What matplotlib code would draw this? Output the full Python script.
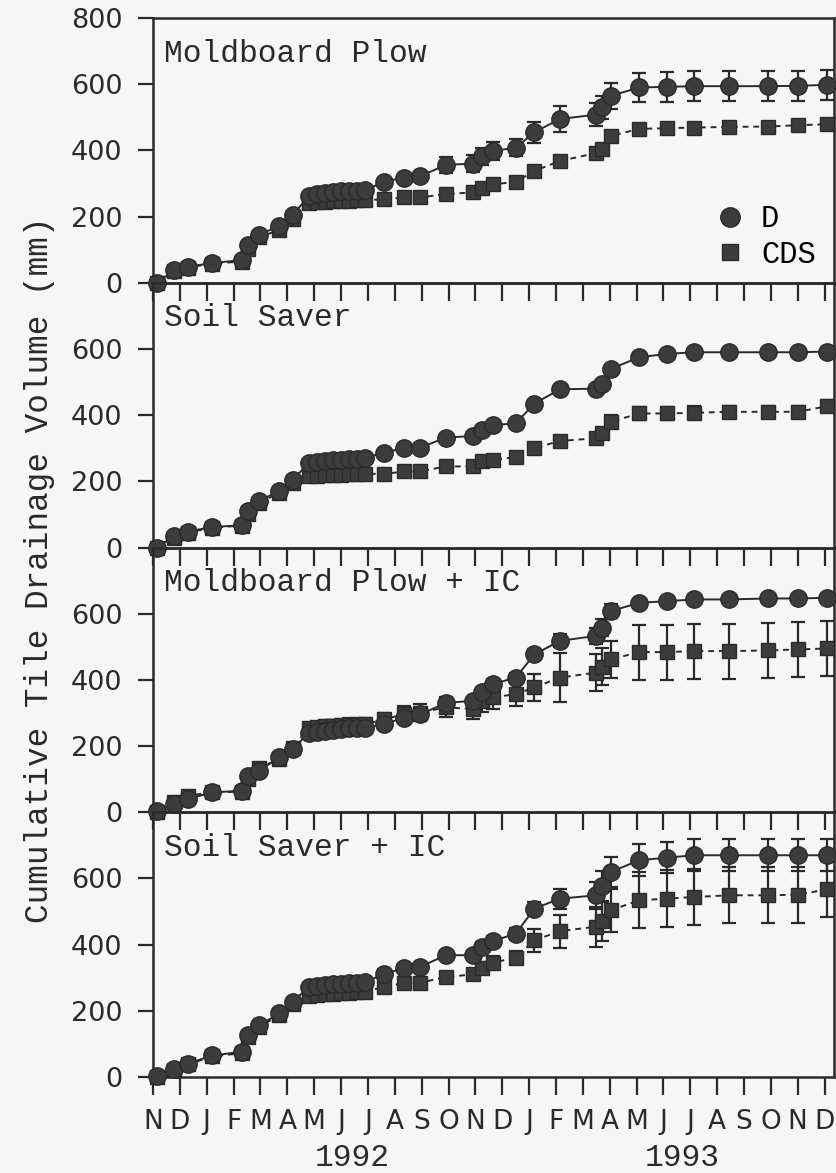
import matplotlib
matplotlib.use("Agg")
import matplotlib.pyplot as plt
import matplotlib.transforms as mtransforms
from matplotlib.lines import Line2D

# Sampling dates, in months after 1 Nov 1991
x_month = [0.15, 0.8, 1.3, 2.2, 3.3, 3.55, 3.95, 4.7, 5.2,
           5.8, 6.1, 6.4, 6.7, 7.0, 7.3, 7.6, 7.9,
           8.6, 9.35, 9.95, 10.9, 11.9, 12.25, 12.65, 13.5, 14.2, 15.15, 16.5, 16.7, 17.05,
           18.1, 19.15, 20.15, 21.45, 22.9, 24.0, 25.1]

month_labels = list("NDJFMAMJJASOND") + list("JFMAMJJASOND")
year_labels = ["1992", "1993"]
year_pos = [7.4, 19.7]

panel_titles = ["Moldboard Plow", "Soil Saver", "Moldboard Plow + IC", "Soil Saver + IC"]

# Moldboard Plow
mp_d = [0, 38, 48, 60, 68, 115, 145, 172, 205,
        262, 268, 272, 274, 276, 277, 278, 280,
        305, 318, 322, 356, 360, 382, 398, 408, 455, 495, 508, 530, 565,
        590, 592, 594, 594, 594, 595, 598]
mp_d_err = [3] * 9 + [6] * 8 + [10, 10, 12, 25, 25, 25, 28, 25, 32, 38, 35, 35, 40] + [45] * 7
mp_cds = [0, 36, 46, 58, 64, 102, 137, 160, 193,
          240, 243, 245, 246, 247, 248, 249, 250,
          252, 258, 258, 268, 273, 285, 297, 305, 338, 368, 392, 405, 444,
          465, 467, 469, 471, 472, 476, 479]
mp_cds_err = [3] * 9 + [5] * 8 + [6, 6, 6, 8, 8, 8, 10, 10, 10, 10, 12, 12, 12] + [12] * 7

# Soil Saver
ss_d = [0, 35, 48, 62, 67, 110, 140, 172, 205,
        255, 258, 261, 263, 265, 267, 268, 270,
        287, 300, 302, 332, 337, 355, 370, 375, 435, 478, 480, 495, 540,
        575, 585, 590, 590, 590, 590, 592]
ss_d_err = [3] * 17 + [5] * 13 + [6] * 7
ss_cds = [0, 28, 45, 60, 66, 100, 135, 165, 195,
          215, 217, 218, 219, 220, 221, 222, 223,
          222, 230, 230, 245, 245, 260, 265, 273, 300, 322, 330, 345, 380,
          405, 405, 407, 410, 410, 410, 427]
ss_cds_err = [3] * 17 + [5, 5, 5, 6, 6, 6, 6, 8, 8, 10, 10, 10, 20] + [20, 20, 20, 18, 18, 18, 18]

# Moldboard Plow + IC
mpic_d = [3, 25, 40, 60, 65, 110, 125, 166, 191,
          240, 244, 247, 250, 252, 254, 255, 256,
          266, 286, 296, 330, 337, 362, 387, 407, 477, 518, 533, 558, 608,
          633, 638, 643, 643, 646, 646, 648]
mpic_d_err = [3] * 17 + [8, 10, 10, 12, 12, 12, 15, 15, 15, 20, 25, 25, 20] + [8] * 7
mpic_cds = [0, 30, 50, 60, 62, 100, 135, 160, 195,
            255, 258, 260, 262, 263, 264, 265, 266,
            281, 296, 301, 317, 312, 337, 347, 357, 377, 407, 422, 440, 462,
            484, 484, 487, 487, 489, 492, 495]
mpic_cds_err = [5] * 9 + [15, 15, 18, 18, 18, 20, 20, 20] + \
    [20, 25, 25, 30, 30, 35, 35, 35, 40, 75, 55, 55, 55] + [83] * 7

# Soil Saver + IC
ssic_d = [2, 25, 40, 65, 76, 126, 156, 192, 227,
          272, 276, 279, 281, 282, 283, 284, 286,
          312, 328, 333, 368, 368, 393, 411, 433, 509, 539, 549, 577, 620,
          655, 663, 670, 670, 670, 670, 670]
ssic_d_err = [4] * 9 + [10] * 8 + [15, 12, 12, 12, 12, 15, 15, 18, 20, 30, 40, 45, 45] + [48] * 7
ssic_cds = [0, 22, 38, 62, 72, 120, 150, 188, 220,
            245, 248, 250, 252, 254, 255, 256, 258,
            272, 284, 285, 302, 310, 328, 345, 361, 413, 441, 454, 470, 504,
            534, 539, 544, 549, 549, 551, 567]
ssic_cds_err = [4] * 9 + [15] * 8 + [18, 15, 15, 15, 15, 18, 20, 20, 35, 50, 60, 60, 65] + [85] * 7

panels = [
    (mp_d, mp_d_err, mp_cds, mp_cds_err),
    (ss_d, ss_d_err, ss_cds, ss_cds_err),
    (mpic_d, mpic_d_err, mpic_cds, mpic_cds_err),
    (ssic_d, ssic_d_err, ssic_cds, ssic_cds_err),
]

MONO = "Liberation Mono"
SANS = "DejaVu Sans"
INK = "#2a2a2a"
MARK = "#3c3c3c"
PAPER = "#f6f6f6"

fig = plt.figure(figsize=(8.36, 11.73), dpi=100, facecolor=PAPER)

# панели вплотную друг к другу
left, right = 153 / 836, 834 / 836
top, bottom = 1 - 18 / 1173, 1 - 1077 / 1173
h = (top - bottom) / 4

axes = []
for i in range(4):
    ax = fig.add_axes([left, top - (i + 1) * h, right - left, h])
    ax.patch.set_visible(False)
    axes.append(ax)

for i, (ax, (d, d_err, cds, cds_err)) in enumerate(zip(axes, panels)):
    ax.errorbar(x_month, cds, yerr=cds_err, marker="s", ms=10, mfc=MARK, mec=INK,
                color=INK, lw=1.4, ls=(0, (3, 2.5)), elinewidth=1.6, capsize=5,
                capthick=1.6, clip_on=False, zorder=3)
    ax.errorbar(x_month, d, yerr=d_err, marker="o", ms=12.5, mfc=MARK, mec=INK,
                color=INK, lw=1.4, ls="-", elinewidth=1.6, capsize=5,
                capthick=1.6, clip_on=False, zorder=4)

    ax.set_xlim(0, 25.35)
    ax.set_ylim(0, 800)
    ax.set_xticks(range(26))
    ax.set_yticks([0, 200, 400, 600, 800] if i == 0 else [0, 200, 400, 600])
    ax.tick_params(axis="both", direction="out", length=11, width=1.6, color=INK,
                   labelsize=19.5, labelcolor=INK, pad=11)
    ax.tick_params(axis="x", length=13)
    for lab in ax.get_yticklabels():
        lab.set_family(SANS)
    for sp in ax.spines.values():
        sp.set_linewidth(1.8)
        sp.set_color(INK)

    if i < 3:
        ax.set_xticklabels([])
    else:
        ax.set_xticklabels(month_labels, family=SANS, fontsize=19)
        ax.tick_params(axis="x", pad=10)

    ax.text(0.016, 0.865, panel_titles[i], transform=ax.transAxes, family=MONO,
            fontsize=22.5, color=INK, ha="left", va="center")

# легенда только на верхней панели
handles = [
    Line2D([], [], marker="o", ls="none", ms=14, mfc=MARK, mec=INK),
    Line2D([], [], marker="s", ls="none", ms=11, mfc=MARK, mec=INK),
]
axes[0].legend(handles, ["D", "CDS"], loc="lower right", bbox_to_anchor=(1.0, -0.02),
               frameon=False, prop={"family": MONO, "size": 22}, handletextpad=0.5,
               labelspacing=0.18, borderaxespad=0.2, handlelength=1.0)

# годы под осью месяцев
trans = mtransforms.blended_transform_factory(axes[3].transData, axes[3].transAxes)
for pos, lab in zip(year_pos, year_labels):
    axes[3].text(pos, -0.305, lab, transform=trans, family=MONO, fontsize=22.5,
                 color=INK, ha="center", va="center")

fig.text(40 / 836, 0.514, "Cumulative Tile Drainage Volume (mm)", rotation=90,
         family=MONO, fontsize=23.5, color=INK, ha="center", va="center")

fig.savefig("out.png", dpi=100, facecolor=PAPER)
